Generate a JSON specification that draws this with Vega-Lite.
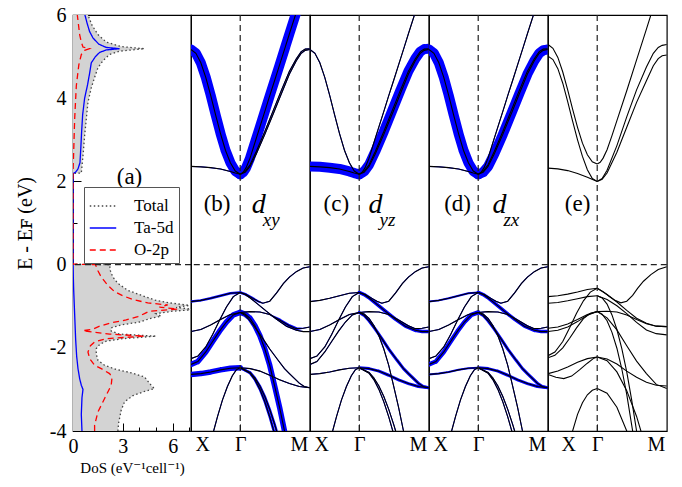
{
"$schema": "https://vega.github.io/schema/vega-lite/v6.json",
"background": "white",
"padding": {"left": 14, "top": 4, "right": 12, "bottom": 4},
"spacing": 0,
"bounds": "flush",
"config": {
  "font": "Liberation Serif, Times New Roman, DejaVu Serif, serif",
  "view": {"stroke": "black", "strokeWidth": 1.2},
  "text": {"font": "Liberation Serif, Times New Roman, DejaVu Serif, serif"},
  "legend": {"labelFont": "Liberation Serif, Times New Roman, DejaVu Serif, serif"},
  "axis": {"grid": false, "domain": false, "tickColor": "black", "labelColor": "black", "titleColor": "black", "labelFont": "Liberation Serif, Times New Roman, DejaVu Serif, serif", "titleFont": "Liberation Serif, Times New Roman, DejaVu Serif, serif", "labelFontSize": 20, "titleFontWeight": "normal", "tickWidth": 1, "labelOverlap": false}
},
"datasets": {
  "dos": [
    {"s":"Total","E":-4.0,"v":2.7},{"s":"Total","E":-3.8,"v":2.75},{"s":"Total","E":-3.5,"v":2.9},{"s":"Total","E":-3.3,"v":3.1},{"s":"Total","E":-3.15,"v":3.6},{"s":"Total","E":-3.05,"v":4.3},{"s":"Total","E":-2.98,"v":4.9},{"s":"Total","E":-2.9,"v":4.7},{"s":"Total","E":-2.8,"v":4.5},{"s":"Total","E":-2.7,"v":4.3},{"s":"Total","E":-2.6,"v":3.5},{"s":"Total","E":-2.52,"v":2.6},{"s":"Total","E":-2.42,"v":1.9},{"s":"Total","E":-2.3,"v":1.5},{"s":"Total","E":-2.15,"v":1.4},{"s":"Total","E":-2.02,"v":1.4},{"s":"Total","E":-1.92,"v":1.6},{"s":"Total","E":-1.84,"v":2.0},{"s":"Total","E":-1.78,"v":3.0},{"s":"Total","E":-1.72,"v":5.0},{"s":"Total","E":-1.67,"v":2.8},{"s":"Total","E":-1.6,"v":2.3},{"s":"Total","E":-1.52,"v":2.3},{"s":"Total","E":-1.45,"v":2.9},{"s":"Total","E":-1.38,"v":4.0},{"s":"Total","E":-1.3,"v":4.6},{"s":"Total","E":-1.24,"v":5.3},{"s":"Total","E":-1.18,"v":5.0},{"s":"Total","E":-1.12,"v":6.0},{"s":"Total","E":-1.08,"v":7.4},{"s":"Total","E":-1.03,"v":6.2},{"s":"Total","E":-0.98,"v":7.0},{"s":"Total","E":-0.92,"v":5.8},{"s":"Total","E":-0.85,"v":4.9},{"s":"Total","E":-0.75,"v":4.2},{"s":"Total","E":-0.62,"v":3.3},{"s":"Total","E":-0.45,"v":2.7},{"s":"Total","E":-0.3,"v":2.4},{"s":"Total","E":-0.15,"v":2.25},{"s":"Total","E":0.0,"v":2.2},{"s":"Total","E":0.01,"v":0},{"s":"Total","E":2.19,"v":0},{"s":"Total","E":2.2,"v":0.5},{"s":"Total","E":2.4,"v":0.55},{"s":"Total","E":2.7,"v":0.62},{"s":"Total","E":3.1,"v":0.7},{"s":"Total","E":3.5,"v":0.8},{"s":"Total","E":3.9,"v":0.9},{"s":"Total","E":4.25,"v":1.1},{"s":"Total","E":4.5,"v":1.3},{"s":"Total","E":4.73,"v":1.5},{"s":"Total","E":4.9,"v":1.8},{"s":"Total","E":5.05,"v":2.2},{"s":"Total","E":5.13,"v":2.8},{"s":"Total","E":5.19,"v":4.3},{"s":"Total","E":5.24,"v":2.9},{"s":"Total","E":5.35,"v":2.0},{"s":"Total","E":5.53,"v":1.5},{"s":"Total","E":5.75,"v":1.15},{"s":"Total","E":6.0,"v":0.9},{"s":"Total","E":6.1,"v":0.85},
    {"s":"Ta-5d","E":-4.0,"v":0.54},{"s":"Ta-5d","E":-3.6,"v":0.5},{"s":"Ta-5d","E":-3.2,"v":0.54},{"s":"Ta-5d","E":-3.0,"v":0.6},{"s":"Ta-5d","E":-2.9,"v":0.5},{"s":"Ta-5d","E":-2.74,"v":0.4},{"s":"Ta-5d","E":-2.5,"v":0.3},{"s":"Ta-5d","E":-2.2,"v":0.22},{"s":"Ta-5d","E":-1.8,"v":0.16},{"s":"Ta-5d","E":-1.4,"v":0.12},{"s":"Ta-5d","E":-1.0,"v":0.08},{"s":"Ta-5d","E":-0.6,"v":0.04},{"s":"Ta-5d","E":-0.3,"v":0.02},{"s":"Ta-5d","E":0.0,"v":0.01},{"s":"Ta-5d","E":0.01,"v":0},{"s":"Ta-5d","E":2.19,"v":0},{"s":"Ta-5d","E":2.22,"v":0.15},{"s":"Ta-5d","E":2.3,"v":0.3},{"s":"Ta-5d","E":2.45,"v":0.42},{"s":"Ta-5d","E":2.8,"v":0.47},{"s":"Ta-5d","E":3.2,"v":0.52},{"s":"Ta-5d","E":3.6,"v":0.58},{"s":"Ta-5d","E":4.0,"v":0.7},{"s":"Ta-5d","E":4.33,"v":0.88},{"s":"Ta-5d","E":4.6,"v":1.0},{"s":"Ta-5d","E":4.85,"v":1.1},{"s":"Ta-5d","E":5.0,"v":1.35},{"s":"Ta-5d","E":5.1,"v":1.6},{"s":"Ta-5d","E":5.16,"v":2.0},{"s":"Ta-5d","E":5.19,"v":2.8},{"s":"Ta-5d","E":5.22,"v":2.0},{"s":"Ta-5d","E":5.3,"v":1.55},{"s":"Ta-5d","E":5.45,"v":1.2},{"s":"Ta-5d","E":5.6,"v":1.0},{"s":"Ta-5d","E":5.8,"v":0.85},{"s":"Ta-5d","E":6.0,"v":0.72},{"s":"Ta-5d","E":6.1,"v":0.68},
    {"s":"O-2p","E":-4.0,"v":1.3},{"s":"O-2p","E":-3.86,"v":1.3},{"s":"O-2p","E":-3.54,"v":1.5},{"s":"O-2p","E":-3.22,"v":1.9},{"s":"O-2p","E":-2.9,"v":2.3},{"s":"O-2p","E":-2.7,"v":2.35},{"s":"O-2p","E":-2.62,"v":2.2},{"s":"O-2p","E":-2.5,"v":1.7},{"s":"O-2p","E":-2.42,"v":1.3},{"s":"O-2p","E":-2.26,"v":1.0},{"s":"O-2p","E":-2.1,"v":0.9},{"s":"O-2p","E":-1.95,"v":1.05},{"s":"O-2p","E":-1.86,"v":1.3},{"s":"O-2p","E":-1.78,"v":2.0},{"s":"O-2p","E":-1.72,"v":4.3},{"s":"O-2p","E":-1.67,"v":2.2},{"s":"O-2p","E":-1.62,"v":1.2},{"s":"O-2p","E":-1.59,"v":0.6},{"s":"O-2p","E":-1.55,"v":1.2},{"s":"O-2p","E":-1.48,"v":1.6},{"s":"O-2p","E":-1.4,"v":2.3},{"s":"O-2p","E":-1.33,"v":3.2},{"s":"O-2p","E":-1.25,"v":3.9},{"s":"O-2p","E":-1.18,"v":4.3},{"s":"O-2p","E":-1.12,"v":4.6},{"s":"O-2p","E":-1.07,"v":6.3},{"s":"O-2p","E":-1.02,"v":5.2},{"s":"O-2p","E":-0.97,"v":5.7},{"s":"O-2p","E":-0.92,"v":4.5},{"s":"O-2p","E":-0.85,"v":3.7},{"s":"O-2p","E":-0.75,"v":3.0},{"s":"O-2p","E":-0.65,"v":2.5},{"s":"O-2p","E":-0.5,"v":2.1},{"s":"O-2p","E":-0.3,"v":1.7},{"s":"O-2p","E":-0.15,"v":1.5},{"s":"O-2p","E":0.0,"v":1.35},{"s":"O-2p","E":0.01,"v":0},{"s":"O-2p","E":2.19,"v":0},{"s":"O-2p","E":2.7,"v":0.04},{"s":"O-2p","E":3.5,"v":0.1},{"s":"O-2p","E":4.3,"v":0.2},{"s":"O-2p","E":4.8,"v":0.35},{"s":"O-2p","E":5.05,"v":0.5},{"s":"O-2p","E":5.15,"v":0.7},{"s":"O-2p","E":5.19,"v":1.0},{"s":"O-2p","E":5.23,"v":0.6},{"s":"O-2p","E":5.35,"v":0.5},{"s":"O-2p","E":5.53,"v":0.4},{"s":"O-2p","E":5.8,"v":0.32},{"s":"O-2p","E":6.0,"v":0.26},{"s":"O-2p","E":6.1,"v":0.25}
  ],
  "mb": [
    {"b":"cAL","k":0,"E":5.17,"wb":1,"wc":0,"wd":1},{"b":"cAL","k":0.05,"E":5.08,"wb":1,"wc":0,"wd":1},{"b":"cAL","k":0.1,"E":4.85,"wb":1,"wc":0,"wd":1},{"b":"cAL","k":0.15,"E":4.5,"wb":1,"wc":0,"wd":1},{"b":"cAL","k":0.2,"E":4.07,"wb":1,"wc":0,"wd":1},{"b":"cAL","k":0.25,"E":3.6,"wb":1,"wc":0,"wd":1},{"b":"cAL","k":0.3,"E":3.15,"wb":1,"wc":0,"wd":1},{"b":"cAL","k":0.35,"E":2.75,"wb":1,"wc":0,"wd":1},{"b":"cAL","k":0.4,"E":2.45,"wb":1,"wc":0,"wd":1},{"b":"cAL","k":0.45,"E":2.25,"wb":1,"wc":0,"wd":1},{"b":"cAL","k":0.5,"E":2.17,"wb":1,"wc":0,"wd":1},
    {"b":"cAR","k":0.5,"E":2.17,"wb":1,"wc":0,"wd":0},{"b":"cAR","k":0.53,"E":2.22,"wb":1,"wc":0,"wd":0},{"b":"cAR","k":0.56,"E":2.33,"wb":1,"wc":0,"wd":0},{"b":"cAR","k":0.6,"E":2.56,"wb":1,"wc":0,"wd":0},{"b":"cAR","k":0.653,"E":2.96,"wb":1,"wc":0,"wd":0},{"b":"cAR","k":0.7,"E":3.31,"wb":1,"wc":0,"wd":0},{"b":"cAR","k":0.755,"E":3.72,"wb":1,"wc":0,"wd":0},{"b":"cAR","k":0.8,"E":4.06,"wb":1,"wc":0,"wd":0},{"b":"cAR","k":0.857,"E":4.48,"wb":1,"wc":0,"wd":0},{"b":"cAR","k":0.9,"E":4.8,"wb":1,"wc":0,"wd":0},{"b":"cAR","k":0.959,"E":5.24,"wb":1,"wc":0,"wd":0},{"b":"cAR","k":1.0,"E":5.55,"wb":1,"wc":0,"wd":0},{"b":"cAR","k":1.061,"E":6.0,"wb":1,"wc":0,"wd":0},{"b":"cAR","k":1.1,"E":6.29,"wb":1,"wc":0,"wd":0},
    {"b":"cBL","k":0,"E":2.36,"wb":0,"wc":1,"wd":0},{"b":"cBL","k":0.1,"E":2.35,"wb":0,"wc":1,"wd":0},{"b":"cBL","k":0.2,"E":2.33,"wb":0,"wc":1,"wd":0},{"b":"cBL","k":0.3,"E":2.3,"wb":0,"wc":1,"wd":0},{"b":"cBL","k":0.4,"E":2.24,"wb":0,"wc":1,"wd":0},{"b":"cBL","k":0.45,"E":2.2,"wb":0,"wc":1,"wd":0},{"b":"cBL","k":0.5,"E":2.17,"wb":0,"wc":1,"wd":0},
    {"b":"cBR","k":0.5,"E":2.17,"wb":0,"wc":1,"wd":0},{"b":"cBR","k":0.55,"E":2.24,"wb":0,"wc":1,"wd":0},{"b":"cBR","k":0.6,"E":2.4,"wb":0,"wc":1,"wd":0},{"b":"cBR","k":0.663,"E":2.72,"wb":0,"wc":1,"wd":0},{"b":"cBR","k":0.75,"E":3.2,"wb":0,"wc":1,"wd":0},{"b":"cBR","k":0.833,"E":3.69,"wb":0,"wc":1,"wd":0},{"b":"cBR","k":0.92,"E":4.2,"wb":0,"wc":1,"wd":0},{"b":"cBR","k":1.0,"E":4.65,"wb":0,"wc":1,"wd":0},{"b":"cBR","k":1.07,"E":4.95,"wb":0,"wc":1,"wd":0},{"b":"cBR","k":1.12,"E":5.12,"wb":0,"wc":1,"wd":0},{"b":"cBR","k":1.16,"E":5.18,"wb":0,"wc":1,"wd":0},{"b":"cBR","k":1.207,"E":5.19,"wb":0,"wc":1,"wd":0},
    {"b":"cCR","k":0.5,"E":2.17,"wb":0,"wc":0,"wd":1},{"b":"cCR","k":0.55,"E":2.22,"wb":0,"wc":0,"wd":1},{"b":"cCR","k":0.6,"E":2.36,"wb":0,"wc":0,"wd":1},{"b":"cCR","k":0.663,"E":2.66,"wb":0,"wc":0,"wd":1},{"b":"cCR","k":0.75,"E":3.13,"wb":0,"wc":0,"wd":1},{"b":"cCR","k":0.833,"E":3.61,"wb":0,"wc":0,"wd":1},{"b":"cCR","k":0.92,"E":4.12,"wb":0,"wc":0,"wd":1},{"b":"cCR","k":1.0,"E":4.58,"wb":0,"wc":0,"wd":1},{"b":"cCR","k":1.07,"E":4.9,"wb":0,"wc":0,"wd":1},{"b":"cCR","k":1.12,"E":5.08,"wb":0,"wc":0,"wd":1},{"b":"cCR","k":1.16,"E":5.15,"wb":0,"wc":0,"wd":1},{"b":"cCR","k":1.207,"E":5.17,"wb":0,"wc":0,"wd":1},
    {"b":"L1","k":0,"E":-0.89,"wb":0.25,"wc":0,"wd":0.2},{"b":"L1","k":0.1,"E":-0.86,"wb":0.25,"wc":0,"wd":0.2},{"b":"L1","k":0.2,"E":-0.81,"wb":0.25,"wc":0,"wd":0.2},{"b":"L1","k":0.3,"E":-0.75,"wb":0.25,"wc":0,"wd":0.2},{"b":"L1","k":0.4,"E":-0.69,"wb":0.25,"wc":0,"wd":0.2},{"b":"L1","k":0.5,"E":-0.67,"wb":0.25,"wc":0,"wd":0.2},
    {"b":"L2","k":0,"E":-2.26,"wb":0,"wc":0,"wd":0},{"b":"L2","k":0.07,"E":-2.2,"wb":0,"wc":0,"wd":0},{"b":"L2","k":0.15,"E":-1.98,"wb":0,"wc":0,"wd":0},{"b":"L2","k":0.22,"E":-1.68,"wb":0,"wc":0,"wd":0},{"b":"L2","k":0.29,"E":-1.34,"wb":0,"wc":0,"wd":0},{"b":"L2","k":0.36,"E":-1.02,"wb":0,"wc":0,"wd":0},{"b":"L2","k":0.43,"E":-0.77,"wb":0,"wc":0,"wd":0},{"b":"L2","k":0.5,"E":-0.67,"wb":0,"wc":0,"wd":0},
    {"b":"L3","k":0,"E":-2.4,"wb":0.55,"wc":0,"wd":0.45},{"b":"L3","k":0.07,"E":-2.33,"wb":0.55,"wc":0,"wd":0.45},{"b":"L3","k":0.15,"E":-2.1,"wb":0.55,"wc":0,"wd":0.45},{"b":"L3","k":0.22,"E":-1.85,"wb":0.55,"wc":0,"wd":0.45},{"b":"L3","k":0.29,"E":-1.6,"wb":0.55,"wc":0,"wd":0.45},{"b":"L3","k":0.36,"E":-1.38,"wb":0.55,"wc":0,"wd":0.45},{"b":"L3","k":0.43,"E":-1.21,"wb":0.55,"wc":0,"wd":0.45},{"b":"L3","k":0.5,"E":-1.15,"wb":0.55,"wc":0,"wd":0.45},
    {"b":"L4","k":0,"E":-1.61,"wb":0,"wc":0,"wd":0},{"b":"L4","k":0.1,"E":-1.56,"wb":0,"wc":0,"wd":0},{"b":"L4","k":0.2,"E":-1.45,"wb":0,"wc":0,"wd":0},{"b":"L4","k":0.3,"E":-1.32,"wb":0,"wc":0,"wd":0},{"b":"L4","k":0.4,"E":-1.2,"wb":0,"wc":0,"wd":0},{"b":"L4","k":0.5,"E":-1.15,"wb":0,"wc":0,"wd":0},
    {"b":"L5","k":0,"E":-2.64,"wb":0.55,"wc":0,"wd":0.2},{"b":"L5","k":0.1,"E":-2.62,"wb":0.55,"wc":0,"wd":0.2},{"b":"L5","k":0.2,"E":-2.58,"wb":0.55,"wc":0,"wd":0.2},{"b":"L5","k":0.3,"E":-2.53,"wb":0.55,"wc":0,"wd":0.2},{"b":"L5","k":0.4,"E":-2.49,"wb":0.55,"wc":0,"wd":0.2},{"b":"L5","k":0.5,"E":-2.48,"wb":0.55,"wc":0,"wd":0.2},
    {"b":"L6","k":0.2,"E":-4.3,"wb":0,"wc":0,"wd":0},{"b":"L6","k":0.23,"E":-4.0,"wb":0,"wc":0,"wd":0},{"b":"L6","k":0.27,"E":-3.65,"wb":0,"wc":0,"wd":0},{"b":"L6","k":0.32,"E":-3.25,"wb":0,"wc":0,"wd":0},{"b":"L6","k":0.37,"E":-2.93,"wb":0,"wc":0,"wd":0},{"b":"L6","k":0.42,"E":-2.67,"wb":0,"wc":0,"wd":0},{"b":"L6","k":0.46,"E":-2.53,"wb":0,"wc":0,"wd":0},{"b":"L6","k":0.5,"E":-2.48,"wb":0,"wc":0,"wd":0},
    {"b":"Ra","k":0.5,"E":-0.67,"wb":0.25,"wc":0,"wd":0},{"b":"Ra","k":0.56,"E":-0.72,"wb":0.25,"wc":0,"wd":0},{"b":"Ra","k":0.62,"E":-0.8,"wb":0.25,"wc":0,"wd":0},{"b":"Ra","k":0.68,"E":-0.88,"wb":0.2,"wc":0,"wd":0},{"b":"Ra","k":0.73,"E":-0.93,"wb":0.1,"wc":0,"wd":0},{"b":"Ra","k":0.8,"E":-0.88,"wb":0,"wc":0,"wd":0},{"b":"Ra","k":0.87,"E":-0.68,"wb":0,"wc":0,"wd":0},{"b":"Ra","k":0.94,"E":-0.45,"wb":0,"wc":0,"wd":0},{"b":"Ra","k":1.0,"E":-0.3,"wb":0,"wc":0,"wd":0},{"b":"Ra","k":1.07,"E":-0.17,"wb":0,"wc":0,"wd":0},{"b":"Ra","k":1.14,"E":-0.08,"wb":0,"wc":0,"wd":0},{"b":"Ra","k":1.207,"E":-0.05,"wb":0,"wc":0,"wd":0},
    {"b":"Rb","k":0.5,"E":-0.67,"wb":0,"wc":0.35,"wd":0.35},{"b":"Rb","k":0.55,"E":-0.72,"wb":0,"wc":0.35,"wd":0.35},{"b":"Rb","k":0.595,"E":-0.79,"wb":0,"wc":0.35,"wd":0.35},{"b":"Rb","k":0.663,"E":-0.92,"wb":0,"wc":0.35,"wd":0.35},{"b":"Rb","k":0.765,"E":-1.12,"wb":0,"wc":0.35,"wd":0.35},{"b":"Rb","k":0.867,"E":-1.31,"wb":0,"wc":0.35,"wd":0.35},{"b":"Rb","k":0.969,"E":-1.48,"wb":0,"wc":0.35,"wd":0.35},{"b":"Rb","k":1.071,"E":-1.58,"wb":0,"wc":0.35,"wd":0.35},{"b":"Rb","k":1.14,"E":-1.61,"wb":0,"wc":0.35,"wd":0.35},{"b":"Rb","k":1.207,"E":-1.61,"wb":0,"wc":0.35,"wd":0.35},
    {"b":"Rc","k":0.5,"E":-1.15,"wb":0,"wc":0,"wd":0},{"b":"Rc","k":0.6,"E":-1.13,"wb":0,"wc":0,"wd":0},{"b":"Rc","k":0.7,"E":-1.14,"wb":0,"wc":0,"wd":0},{"b":"Rc","k":0.8,"E":-1.2,"wb":0,"wc":0,"wd":0},{"b":"Rc","k":0.9,"E":-1.33,"wb":0.3,"wc":0,"wd":0},{"b":"Rc","k":1.0,"E":-1.47,"wb":0.3,"wc":0,"wd":0},{"b":"Rc","k":1.07,"E":-1.54,"wb":0.3,"wc":0,"wd":0},{"b":"Rc","k":1.14,"E":-1.53,"wb":0.1,"wc":0,"wd":0},{"b":"Rc","k":1.207,"E":-1.5,"wb":0,"wc":0,"wd":0},
    {"b":"Rd","k":0.5,"E":-1.15,"wb":0,"wc":0.3,"wd":0.3},{"b":"Rd","k":0.55,"E":-1.22,"wb":0,"wc":0.3,"wd":0.3},{"b":"Rd","k":0.6,"E":-1.35,"wb":0,"wc":0.3,"wd":0.3},{"b":"Rd","k":0.663,"E":-1.55,"wb":0,"wc":0.3,"wd":0.3},{"b":"Rd","k":0.73,"E":-1.78,"wb":0,"wc":0.3,"wd":0.3},{"b":"Rd","k":0.8,"E":-2.03,"wb":0,"wc":0.3,"wd":0.3},{"b":"Rd","k":0.885,"E":-2.3,"wb":0,"wc":0.3,"wd":0.3},{"b":"Rd","k":0.95,"E":-2.5,"wb":0,"wc":0.3,"wd":0.3},{"b":"Rd","k":1.0,"E":-2.62,"wb":0,"wc":0.3,"wd":0.3},{"b":"Rd","k":1.1,"E":-2.85,"wb":0,"wc":0.3,"wd":0.3},{"b":"Rd","k":1.15,"E":-2.93,"wb":0,"wc":0.3,"wd":0.3},{"b":"Rd","k":1.207,"E":-2.96,"wb":0,"wc":0.3,"wd":0.3},
    {"b":"Re","k":0.5,"E":-1.15,"wb":0.55,"wc":0,"wd":0},{"b":"Re","k":0.55,"E":-1.19,"wb":0.55,"wc":0,"wd":0},{"b":"Re","k":0.6,"E":-1.29,"wb":0.55,"wc":0,"wd":0},{"b":"Re","k":0.65,"E":-1.47,"wb":0.55,"wc":0,"wd":0},{"b":"Re","k":0.7,"E":-1.71,"wb":0.55,"wc":0,"wd":0},{"b":"Re","k":0.75,"E":-2.03,"wb":0.55,"wc":0,"wd":0},{"b":"Re","k":0.8,"E":-2.42,"wb":0.55,"wc":0,"wd":0},{"b":"Re","k":0.85,"E":-2.92,"wb":0.55,"wc":0,"wd":0},{"b":"Re","k":0.9,"E":-3.43,"wb":0.55,"wc":0,"wd":0},{"b":"Re","k":0.95,"E":-4.0,"wb":0.55,"wc":0,"wd":0},{"b":"Re","k":0.98,"E":-4.4,"wb":0.55,"wc":0,"wd":0},
    {"b":"Rf","k":0.5,"E":-2.48,"wb":0,"wc":0.3,"wd":0.3},{"b":"Rf","k":0.6,"E":-2.5,"wb":0,"wc":0.3,"wd":0.3},{"b":"Rf","k":0.7,"E":-2.56,"wb":0,"wc":0.3,"wd":0.3},{"b":"Rf","k":0.8,"E":-2.66,"wb":0,"wc":0.3,"wd":0.3},{"b":"Rf","k":0.9,"E":-2.77,"wb":0,"wc":0.3,"wd":0.3},{"b":"Rf","k":1.0,"E":-2.86,"wb":0,"wc":0.3,"wd":0.3},{"b":"Rf","k":1.1,"E":-2.93,"wb":0,"wc":0.3,"wd":0.3},{"b":"Rf","k":1.207,"E":-2.96,"wb":0,"wc":0.3,"wd":0.3},
    {"b":"Rg","k":0.5,"E":-2.48,"wb":0.25,"wc":0,"wd":0},{"b":"Rg","k":0.6,"E":-2.61,"wb":0.25,"wc":0,"wd":0},{"b":"Rg","k":0.65,"E":-2.77,"wb":0.25,"wc":0,"wd":0},{"b":"Rg","k":0.7,"E":-3.0,"wb":0.25,"wc":0,"wd":0},{"b":"Rg","k":0.75,"E":-3.3,"wb":0.25,"wc":0,"wd":0},{"b":"Rg","k":0.8,"E":-3.66,"wb":0.25,"wc":0,"wd":0},{"b":"Rg","k":0.84,"E":-3.99,"wb":0.25,"wc":0,"wd":0},{"b":"Rg","k":0.87,"E":-4.27,"wb":0.25,"wc":0,"wd":0},
    {"b":"Rh","k":0.5,"E":-2.48,"wb":0.25,"wc":0,"wd":0},{"b":"Rh","k":0.6,"E":-2.59,"wb":0.25,"wc":0,"wd":0},{"b":"Rh","k":0.65,"E":-2.73,"wb":0.25,"wc":0,"wd":0},{"b":"Rh","k":0.7,"E":-2.92,"wb":0.25,"wc":0,"wd":0},{"b":"Rh","k":0.75,"E":-3.17,"wb":0.25,"wc":0,"wd":0},{"b":"Rh","k":0.8,"E":-3.48,"wb":0.25,"wc":0,"wd":0},{"b":"Rh","k":0.85,"E":-3.84,"wb":0.25,"wc":0,"wd":0},{"b":"Rh","k":0.87,"E":-4.0,"wb":0.25,"wc":0,"wd":0},{"b":"Rh","k":0.9,"E":-4.26,"wb":0.25,"wc":0,"wd":0}
  ],
  "eb": [
    {"b":"e1L","k":0,"E":5.29},{"b":"e1L","k":0.05,"E":5.2},{"b":"e1L","k":0.1,"E":4.98},{"b":"e1L","k":0.15,"E":4.63},{"b":"e1L","k":0.2,"E":4.2},{"b":"e1L","k":0.25,"E":3.74},{"b":"e1L","k":0.3,"E":3.3},{"b":"e1L","k":0.35,"E":2.92},{"b":"e1L","k":0.4,"E":2.64},{"b":"e1L","k":0.45,"E":2.47},{"b":"e1L","k":0.5,"E":2.42},
    {"b":"e1R","k":0.5,"E":2.42},{"b":"e1R","k":0.53,"E":2.46},{"b":"e1R","k":0.56,"E":2.56},{"b":"e1R","k":0.6,"E":2.76},{"b":"e1R","k":0.65,"E":3.1},{"b":"e1R","k":0.7,"E":3.46},{"b":"e1R","k":0.8,"E":4.18},{"b":"e1R","k":0.9,"E":4.92},{"b":"e1R","k":1.0,"E":5.66},{"b":"e1R","k":1.045,"E":6.0},{"b":"e1R","k":1.1,"E":6.4},
    {"b":"e2L","k":0,"E":5.01},{"b":"e2L","k":0.05,"E":4.93},{"b":"e2L","k":0.1,"E":4.71},{"b":"e2L","k":0.15,"E":4.36},{"b":"e2L","k":0.2,"E":3.92},{"b":"e2L","k":0.25,"E":3.45},{"b":"e2L","k":0.3,"E":3.0},{"b":"e2L","k":0.35,"E":2.6},{"b":"e2L","k":0.4,"E":2.28},{"b":"e2L","k":0.45,"E":2.07},{"b":"e2L","k":0.5,"E":2.0},
    {"b":"e2R","k":0.5,"E":2.0},{"b":"e2R","k":0.55,"E":2.07},{"b":"e2R","k":0.6,"E":2.27},{"b":"e2R","k":0.7,"E":2.86},{"b":"e2R","k":0.8,"E":3.55},{"b":"e2R","k":0.9,"E":4.2},{"b":"e2R","k":1.0,"E":4.75},{"b":"e2R","k":1.07,"E":5.08},{"b":"e2R","k":1.12,"E":5.22},{"b":"e2R","k":1.16,"E":5.27},{"b":"e2R","k":1.207,"E":5.29},
    {"b":"e3L","k":0,"E":2.32},{"b":"e3L","k":0.1,"E":2.3},{"b":"e3L","k":0.2,"E":2.26},{"b":"e3L","k":0.3,"E":2.19},{"b":"e3L","k":0.4,"E":2.1},{"b":"e3L","k":0.5,"E":2.0},
    {"b":"e3R","k":0.5,"E":2.0},{"b":"e3R","k":0.55,"E":2.05},{"b":"e3R","k":0.6,"E":2.2},{"b":"e3R","k":0.7,"E":2.7},{"b":"e3R","k":0.8,"E":3.3},{"b":"e3R","k":0.9,"E":3.9},{"b":"e3R","k":1.0,"E":4.42},{"b":"e3R","k":1.07,"E":4.78},{"b":"e3R","k":1.12,"E":4.95},{"b":"e3R","k":1.16,"E":5.02},{"b":"e3R","k":1.207,"E":5.04},
    {"b":"eL1","k":0,"E":-0.77},{"b":"eL1","k":0.1,"E":-0.75},{"b":"eL1","k":0.2,"E":-0.71},{"b":"eL1","k":0.3,"E":-0.66},{"b":"eL1","k":0.4,"E":-0.6},{"b":"eL1","k":0.5,"E":-0.57},
    {"b":"eL2","k":0,"E":-0.93},{"b":"eL2","k":0.1,"E":-0.91},{"b":"eL2","k":0.2,"E":-0.87},{"b":"eL2","k":0.3,"E":-0.82},{"b":"eL2","k":0.4,"E":-0.77},{"b":"eL2","k":0.5,"E":-0.75},
    {"b":"eL3","k":0,"E":-1.53},{"b":"eL3","k":0.1,"E":-1.5},{"b":"eL3","k":0.2,"E":-1.43},{"b":"eL3","k":0.3,"E":-1.32},{"b":"eL3","k":0.4,"E":-1.2},{"b":"eL3","k":0.5,"E":-1.13},
    {"b":"eL4","k":0,"E":-1.61},{"b":"eL4","k":0.1,"E":-1.58},{"b":"eL4","k":0.2,"E":-1.5},{"b":"eL4","k":0.3,"E":-1.37},{"b":"eL4","k":0.4,"E":-1.22},{"b":"eL4","k":0.5,"E":-1.13},
    {"b":"eL5","k":0,"E":-2.19},{"b":"eL5","k":0.07,"E":-2.1},{"b":"eL5","k":0.15,"E":-1.85},{"b":"eL5","k":0.22,"E":-1.52},{"b":"eL5","k":0.29,"E":-1.17},{"b":"eL5","k":0.36,"E":-0.87},{"b":"eL5","k":0.43,"E":-0.66},{"b":"eL5","k":0.5,"E":-0.57},
    {"b":"eL6","k":0,"E":-2.24},{"b":"eL6","k":0.07,"E":-2.18},{"b":"eL6","k":0.15,"E":-2.0},{"b":"eL6","k":0.22,"E":-1.77},{"b":"eL6","k":0.29,"E":-1.52},{"b":"eL6","k":0.36,"E":-1.3},{"b":"eL6","k":0.43,"E":-1.17},{"b":"eL6","k":0.5,"E":-1.13},
    {"b":"eL7","k":0,"E":-2.62},{"b":"eL7","k":0.1,"E":-2.56},{"b":"eL7","k":0.2,"E":-2.46},{"b":"eL7","k":0.3,"E":-2.35},{"b":"eL7","k":0.4,"E":-2.26},{"b":"eL7","k":0.5,"E":-2.22},
    {"b":"eL8","k":0,"E":-2.64},{"b":"eL8","k":0.08,"E":-2.71},{"b":"eL8","k":0.16,"E":-2.74},{"b":"eL8","k":0.24,"E":-2.68},{"b":"eL8","k":0.32,"E":-2.53},{"b":"eL8","k":0.4,"E":-2.37},{"b":"eL8","k":0.46,"E":-2.26},{"b":"eL8","k":0.5,"E":-2.22},
    {"b":"eL9","k":0.22,"E":-4.3},{"b":"eL9","k":0.25,"E":-4.0},{"b":"eL9","k":0.3,"E":-3.6},{"b":"eL9","k":0.35,"E":-3.32},{"b":"eL9","k":0.4,"E":-3.13},{"b":"eL9","k":0.45,"E":-3.02},{"b":"eL9","k":0.5,"E":-2.98},
    {"b":"eR1","k":0.5,"E":-0.57},{"b":"eR1","k":0.56,"E":-0.65},{"b":"eR1","k":0.62,"E":-0.76},{"b":"eR1","k":0.68,"E":-0.86},{"b":"eR1","k":0.74,"E":-0.92},{"b":"eR1","k":0.8,"E":-0.88},{"b":"eR1","k":0.86,"E":-0.74},{"b":"eR1","k":0.91,"E":-0.57},{"b":"eR1","k":0.97,"E":-0.4},{"b":"eR1","k":1.045,"E":-0.24},{"b":"eR1","k":1.12,"E":-0.12},{"b":"eR1","k":1.207,"E":-0.05},
    {"b":"eR2","k":0.5,"E":-0.57},{"b":"eR2","k":0.6,"E":-0.72},{"b":"eR2","k":0.7,"E":-0.9},{"b":"eR2","k":0.8,"E":-1.1},{"b":"eR2","k":0.9,"E":-1.29},{"b":"eR2","k":1.0,"E":-1.41},{"b":"eR2","k":1.1,"E":-1.48},{"b":"eR2","k":1.207,"E":-1.49},
    {"b":"eR3","k":0.5,"E":-0.75},{"b":"eR3","k":0.6,"E":-0.84},{"b":"eR3","k":0.7,"E":-0.99},{"b":"eR3","k":0.8,"E":-1.18},{"b":"eR3","k":0.9,"E":-1.39},{"b":"eR3","k":1.0,"E":-1.57},{"b":"eR3","k":1.1,"E":-1.66},{"b":"eR3","k":1.207,"E":-1.69},
    {"b":"eR4","k":0.5,"E":-1.13},{"b":"eR4","k":0.6,"E":-1.12},{"b":"eR4","k":0.7,"E":-1.14},{"b":"eR4","k":0.8,"E":-1.21},{"b":"eR4","k":0.9,"E":-1.32},{"b":"eR4","k":1.0,"E":-1.42},{"b":"eR4","k":1.1,"E":-1.48},{"b":"eR4","k":1.207,"E":-1.49},
    {"b":"eR5","k":0.5,"E":-1.13},{"b":"eR5","k":0.55,"E":-1.19},{"b":"eR5","k":0.6,"E":-1.35},{"b":"eR5","k":0.65,"E":-1.63},{"b":"eR5","k":0.7,"E":-2.01},{"b":"eR5","k":0.75,"E":-2.51},{"b":"eR5","k":0.8,"E":-3.12},{"b":"eR5","k":0.86,"E":-4.0},{"b":"eR5","k":0.89,"E":-4.5},
    {"b":"eR6","k":0.5,"E":-0.75},{"b":"eR6","k":0.55,"E":-0.8},{"b":"eR6","k":0.6,"E":-0.95},{"b":"eR6","k":0.65,"E":-1.21},{"b":"eR6","k":0.7,"E":-1.56},{"b":"eR6","k":0.75,"E":-2.02},{"b":"eR6","k":0.8,"E":-2.58},{"b":"eR6","k":0.85,"E":-3.25},{"b":"eR6","k":0.9,"E":-4.0},{"b":"eR6","k":0.93,"E":-4.5},
    {"b":"eR7","k":0.5,"E":-2.22},{"b":"eR7","k":0.6,"E":-2.31},{"b":"eR7","k":0.7,"E":-2.58},{"b":"eR7","k":0.8,"E":-3.03},{"b":"eR7","k":0.9,"E":-3.65},{"b":"eR7","k":0.944,"E":-4.0},{"b":"eR7","k":0.98,"E":-4.3},
    {"b":"eR8","k":0.5,"E":-2.22},{"b":"eR8","k":0.6,"E":-2.27},{"b":"eR8","k":0.7,"E":-2.39},{"b":"eR8","k":0.8,"E":-2.56},{"b":"eR8","k":0.9,"E":-2.71},{"b":"eR8","k":1.0,"E":-2.83},{"b":"eR8","k":1.1,"E":-2.9},{"b":"eR8","k":1.207,"E":-2.92},
    {"b":"eR9","k":0.5,"E":-1.13},{"b":"eR9","k":0.6,"E":-1.28},{"b":"eR9","k":0.7,"E":-1.57},{"b":"eR9","k":0.8,"E":-1.95},{"b":"eR9","k":0.9,"E":-2.32},{"b":"eR9","k":1.0,"E":-2.62},{"b":"eR9","k":1.1,"E":-2.88},{"b":"eR9","k":1.207,"E":-2.98},
    {"b":"eR10","k":0.5,"E":-2.98},{"b":"eR10","k":0.6,"E":-3.09},{"b":"eR10","k":0.7,"E":-3.43},{"b":"eR10","k":0.8,"E":-4.0},{"b":"eR10","k":0.83,"E":-4.2}
  ]
},
"hconcat": [
  {
    "width": 118, "height": 416,
    "resolve": {"axis": {"x": "independent"}},
    "layer": [
      {"data": {"name": "dos"}, "transform": [{"filter": "datum.s == 'Total'"}],
       "mark": {"type": "area", "orient": "horizontal", "color": "#d3d3d3", "clip": true},
       "encoding": {
         "x": {"field": "v", "type": "quantitative", "stack": null, "scale": {"domain": [0, 7.1], "nice": false},
               "axis": {"orient": "bottom", "values": [0,3,6], "format": "d", "labelFlush": false, "labelOverlap": false,
                        "tickSize": -8, "labelPadding": 13, "title": "DoS (eV⁻¹cell⁻¹)", "titleFontSize": 15, "titlePadding": 4}},
         "x2": {"datum": 0},
         "y": {"field": "E", "type": "quantitative", "scale": {"domain": [-4, 6], "nice": false},
               "axis": {"values": [-4,-3,-2,-1,0,1,2,3,4,5,6], "labelExpr": "datum.value % 2 == 0 ? '' + datum.value : ''", "labelOverlap": false,
                        "tickSize": {"condition": {"test": "datum.value % 2 == 0", "value": -8}, "value": -4},
                        "labelPadding": 15, "title": "E - Eꜰ (eV)", "titleFontSize": 20, "titlePadding": 14}}
       }},
      {"data": {"name": "dos"},
       "mark": {"type": "line", "clip": true, "strokeWidth": 1.3},
       "encoding": {
         "x": {"field": "v", "type": "quantitative", "axis": null},
         "y": {"field": "E", "type": "quantitative"},
         "order": {"field": "E", "type": "quantitative"},
         "color": {"field": "s", "type": "nominal", "scale": {"domain": ["Total","Ta-5d","O-2p"], "range": ["#444444","#0000ff","#ff0000"]},
                   "legend": {"title": null, "orient": "none", "legendX": 11, "legendY": 172, "fillColor": "white", "strokeColor": "#555555", "padding": 5, "labelFont": "Liberation Serif, Times New Roman, DejaVu Serif, serif", "labelFontSize": 17, "labelColor": "black", "labelLimit": 300, "symbolType": "stroke", "symbolSize": 700, "symbolStrokeWidth": 1.5, "rowPadding": 0, "labelOffset": 17}},
         "strokeDash": {"field": "s", "type": "nominal", "scale": {"domain": ["Total","Ta-5d","O-2p"], "range": [[1.5,2.5],[1,0],[6,4]]},
                   "legend": {"title": null, "orient": "none", "legendX": 11, "legendY": 172, "fillColor": "white", "strokeColor": "#555555", "padding": 5, "labelFont": "Liberation Serif, Times New Roman, DejaVu Serif, serif", "labelFontSize": 17, "labelColor": "black", "labelLimit": 300, "symbolType": "stroke", "symbolSize": 700, "symbolStrokeWidth": 1.5, "rowPadding": 0, "labelOffset": 17}}
       }},
      {"data": {"values": [{}]}, "mark": {"type": "rule", "strokeDash": [6,4], "color": "#222222", "strokeWidth": 1.2}, "encoding": {"y": {"datum": 0}}},
      {"data": {"values": [{"v": 3.4, "E": 1.93, "t": "(a)"}]},
       "mark": {"type": "text", "fontSize": 23, "font": "Liberation Serif, Times New Roman, DejaVu Serif, serif", "align": "center", "baseline": "alphabetic", "color": "black"},
       "encoding": {"x": {"field": "v", "type": "quantitative", "axis": {"orient": "bottom", "values": [1,2,4,5,7], "labels": false, "tickSize": -4, "title": null}},
                    "y": {"field": "E", "type": "quantitative"}, "text": {"field": "t"}}}
    ]
  },
  {
    "width": 118.8, "height": 416,
    "layer": [
      {"data": {"name": "mb"}, "mark": {"type": "trail", "color": "#0000ff", "clip": true},
       "encoding": {
         "x": {"field": "k", "type": "quantitative", "scale": {"domain": [0, 1.207], "nice": false, "zero": false},
               "axis": {"values": [0, 0.5, 1.207], "labelExpr": "datum.value == 0 ? 'X' : datum.value == 0.5 ? 'Γ' : 'M'", "labelFlush": true,
                        "tickSize": {"condition": {"test": "datum.value == 0.5", "value": -7}, "value": 0},
                        "labelPadding": {"condition": {"test": "datum.value == 0.5", "value": 10}, "value": 3},
                        "labelOffset": {"condition": [{"test": "datum.value == 0", "value": 4}, {"test": "datum.value > 1", "value": -2}], "value": 0},
                        "title": null}},
         "y": {"field": "E", "type": "quantitative", "scale": {"domain": [-4, 6], "nice": false}, "axis": null},
         "detail": {"field": "b"}, "order": {"field": "k", "type": "quantitative"},
         "size": {"field": "wb", "type": "quantitative", "scale": {"domain": [0, 1], "range": [0, 10]}, "legend": null}
       }},
      {"data": {"name": "mb"}, "mark": {"type": "line", "color": "black", "strokeWidth": 1.1, "clip": true},
       "encoding": {"x": {"field": "k", "type": "quantitative"}, "y": {"field": "E", "type": "quantitative"}, "detail": {"field": "b"}, "order": {"field": "k", "type": "quantitative"}}},
      {"data": {"values": [{}]}, "mark": {"type": "rule", "strokeDash": [6,4], "color": "#222222", "strokeWidth": 1.2}, "encoding": {"y": {"datum": 0}}},
      {"data": {"values": [{}]}, "mark": {"type": "rule", "strokeDash": [6,4], "color": "#222222", "strokeWidth": 1.2}, "encoding": {"x": {"datum": 0.5}}},
      {"data": {"values": [{"k": 0.265, "E": 1.3, "t": "(b)"}]},
       "mark": {"type": "text", "fontSize": 23, "font": "Liberation Serif, Times New Roman, DejaVu Serif, serif", "align": "center", "baseline": "alphabetic", "color": "black"},
       "encoding": {"x": {"field": "k", "type": "quantitative"}, "y": {"field": "E", "type": "quantitative"}, "text": {"field": "t"}}},
      {"data": {"values": [{"k": 0.618, "E": 1.25, "t": "d", "s": "xy"}]},
       "layer": [
         {"mark": {"type": "text", "fontSize": 28, "font": "Liberation Serif, Times New Roman, DejaVu Serif, serif", "fontStyle": "italic", "align": "left", "baseline": "alphabetic", "color": "black"},
          "encoding": {"x": {"field": "k", "type": "quantitative"}, "y": {"field": "E", "type": "quantitative"}, "text": {"field": "t"}}},
         {"mark": {"type": "text", "fontSize": 19, "font": "Liberation Serif, Times New Roman, DejaVu Serif, serif", "fontStyle": "italic", "align": "left", "baseline": "alphabetic", "color": "black", "dx": 11, "dy": 13},
          "encoding": {"x": {"field": "k", "type": "quantitative"}, "y": {"field": "E", "type": "quantitative"}, "text": {"field": "s"}}}
       ]}
    ]
  },
  {
    "width": 118.8, "height": 416,
    "layer": [
      {"data": {"name": "mb"}, "mark": {"type": "trail", "color": "#0000ff", "clip": true},
       "encoding": {
         "x": {"field": "k", "type": "quantitative", "scale": {"domain": [0, 1.207], "nice": false, "zero": false},
               "axis": {"values": [0, 0.5, 1.207], "labelExpr": "datum.value == 0 ? 'X' : datum.value == 0.5 ? 'Γ' : 'M'", "labelFlush": true,
                        "tickSize": {"condition": {"test": "datum.value == 0.5", "value": -7}, "value": 0},
                        "labelPadding": {"condition": {"test": "datum.value == 0.5", "value": 10}, "value": 3},
                        "labelOffset": {"condition": [{"test": "datum.value == 0", "value": 4}, {"test": "datum.value > 1", "value": -2}], "value": 0},
                        "title": null}},
         "y": {"field": "E", "type": "quantitative", "scale": {"domain": [-4, 6], "nice": false}, "axis": null},
         "detail": {"field": "b"}, "order": {"field": "k", "type": "quantitative"},
         "size": {"field": "wc", "type": "quantitative", "scale": {"domain": [0, 1], "range": [0, 10]}, "legend": null}
       }},
      {"data": {"name": "mb"}, "mark": {"type": "line", "color": "black", "strokeWidth": 1.1, "clip": true},
       "encoding": {"x": {"field": "k", "type": "quantitative"}, "y": {"field": "E", "type": "quantitative"}, "detail": {"field": "b"}, "order": {"field": "k", "type": "quantitative"}}},
      {"data": {"values": [{}]}, "mark": {"type": "rule", "strokeDash": [6,4], "color": "#222222", "strokeWidth": 1.2}, "encoding": {"y": {"datum": 0}}},
      {"data": {"values": [{}]}, "mark": {"type": "rule", "strokeDash": [6,4], "color": "#222222", "strokeWidth": 1.2}, "encoding": {"x": {"datum": 0.5}}},
      {"data": {"values": [{"k": 0.267, "E": 1.3, "t": "(c)"}]},
       "mark": {"type": "text", "fontSize": 23, "font": "Liberation Serif, Times New Roman, DejaVu Serif, serif", "align": "center", "baseline": "alphabetic", "color": "black"},
       "encoding": {"x": {"field": "k", "type": "quantitative"}, "y": {"field": "E", "type": "quantitative"}, "text": {"field": "t"}}},
      {"data": {"values": [{"k": 0.595, "E": 1.25, "t": "d", "s": "yz"}]},
       "layer": [
         {"mark": {"type": "text", "fontSize": 28, "font": "Liberation Serif, Times New Roman, DejaVu Serif, serif", "fontStyle": "italic", "align": "left", "baseline": "alphabetic", "color": "black"},
          "encoding": {"x": {"field": "k", "type": "quantitative"}, "y": {"field": "E", "type": "quantitative"}, "text": {"field": "t"}}},
         {"mark": {"type": "text", "fontSize": 19, "font": "Liberation Serif, Times New Roman, DejaVu Serif, serif", "fontStyle": "italic", "align": "left", "baseline": "alphabetic", "color": "black", "dx": 11, "dy": 13},
          "encoding": {"x": {"field": "k", "type": "quantitative"}, "y": {"field": "E", "type": "quantitative"}, "text": {"field": "s"}}}
       ]}
    ]
  },
  {
    "width": 118.8, "height": 416,
    "layer": [
      {"data": {"name": "mb"}, "mark": {"type": "trail", "color": "#0000ff", "clip": true},
       "encoding": {
         "x": {"field": "k", "type": "quantitative", "scale": {"domain": [0, 1.207], "nice": false, "zero": false},
               "axis": {"values": [0, 0.5, 1.207], "labelExpr": "datum.value == 0 ? 'X' : datum.value == 0.5 ? 'Γ' : 'M'", "labelFlush": true,
                        "tickSize": {"condition": {"test": "datum.value == 0.5", "value": -7}, "value": 0},
                        "labelPadding": {"condition": {"test": "datum.value == 0.5", "value": 10}, "value": 3},
                        "labelOffset": {"condition": [{"test": "datum.value == 0", "value": 4}, {"test": "datum.value > 1", "value": -2}], "value": 0},
                        "title": null}},
         "y": {"field": "E", "type": "quantitative", "scale": {"domain": [-4, 6], "nice": false}, "axis": null},
         "detail": {"field": "b"}, "order": {"field": "k", "type": "quantitative"},
         "size": {"field": "wd", "type": "quantitative", "scale": {"domain": [0, 1], "range": [0, 10]}, "legend": null}
       }},
      {"data": {"name": "mb"}, "mark": {"type": "line", "color": "black", "strokeWidth": 1.1, "clip": true},
       "encoding": {"x": {"field": "k", "type": "quantitative"}, "y": {"field": "E", "type": "quantitative"}, "detail": {"field": "b"}, "order": {"field": "k", "type": "quantitative"}}},
      {"data": {"values": [{}]}, "mark": {"type": "rule", "strokeDash": [6,4], "color": "#222222", "strokeWidth": 1.2}, "encoding": {"y": {"datum": 0}}},
      {"data": {"values": [{}]}, "mark": {"type": "rule", "strokeDash": [6,4], "color": "#222222", "strokeWidth": 1.2}, "encoding": {"x": {"datum": 0.5}}},
      {"data": {"values": [{"k": 0.29, "E": 1.3, "t": "(d)"}]},
       "mark": {"type": "text", "fontSize": 23, "font": "Liberation Serif, Times New Roman, DejaVu Serif, serif", "align": "center", "baseline": "alphabetic", "color": "black"},
       "encoding": {"x": {"field": "k", "type": "quantitative"}, "y": {"field": "E", "type": "quantitative"}, "text": {"field": "t"}}},
      {"data": {"values": [{"k": 0.644, "E": 1.25, "t": "d", "s": "zx"}]},
       "layer": [
         {"mark": {"type": "text", "fontSize": 28, "font": "Liberation Serif, Times New Roman, DejaVu Serif, serif", "fontStyle": "italic", "align": "left", "baseline": "alphabetic", "color": "black"},
          "encoding": {"x": {"field": "k", "type": "quantitative"}, "y": {"field": "E", "type": "quantitative"}, "text": {"field": "t"}}},
         {"mark": {"type": "text", "fontSize": 19, "font": "Liberation Serif, Times New Roman, DejaVu Serif, serif", "fontStyle": "italic", "align": "left", "baseline": "alphabetic", "color": "black", "dx": 11, "dy": 13},
          "encoding": {"x": {"field": "k", "type": "quantitative"}, "y": {"field": "E", "type": "quantitative"}, "text": {"field": "s"}}}
       ]}
    ]
  },
  {
    "width": 118.8, "height": 416,
    "layer": [
      {"data": {"name": "eb"}, "mark": {"type": "line", "color": "black", "strokeWidth": 1.1, "clip": true},
       "encoding": {
         "x": {"field": "k", "type": "quantitative", "scale": {"domain": [0, 1.207], "nice": false, "zero": false},
               "axis": {"values": [0, 0.5, 1.207], "labelExpr": "datum.value == 0 ? 'X' : datum.value == 0.5 ? 'Γ' : 'M'", "labelFlush": true,
                        "tickSize": {"condition": {"test": "datum.value == 0.5", "value": -7}, "value": 0},
                        "labelPadding": {"condition": {"test": "datum.value == 0.5", "value": 10}, "value": 3},
                        "labelOffset": {"condition": [{"test": "datum.value == 0", "value": 13}, {"test": "datum.value > 1", "value": -2}], "value": 0},
                        "title": null}},
         "y": {"field": "E", "type": "quantitative", "scale": {"domain": [-4, 6], "nice": false}, "axis": null},
         "detail": {"field": "b"}, "order": {"field": "k", "type": "quantitative"}
       }},
      {"data": {"values": [{}]}, "mark": {"type": "rule", "strokeDash": [6,4], "color": "#222222", "strokeWidth": 1.2}, "encoding": {"y": {"datum": 0}}},
      {"data": {"values": [{}]}, "mark": {"type": "rule", "strokeDash": [6,4], "color": "#222222", "strokeWidth": 1.2}, "encoding": {"x": {"datum": 0.5}}},
      {"data": {"values": [{"k": 0.3, "E": 1.3, "t": "(e)"}]},
       "mark": {"type": "text", "fontSize": 23, "font": "Liberation Serif, Times New Roman, DejaVu Serif, serif", "align": "center", "baseline": "alphabetic", "color": "black"},
       "encoding": {"x": {"field": "k", "type": "quantitative"}, "y": {"field": "E", "type": "quantitative"}, "text": {"field": "t"}}}
    ]
  }
]
}
